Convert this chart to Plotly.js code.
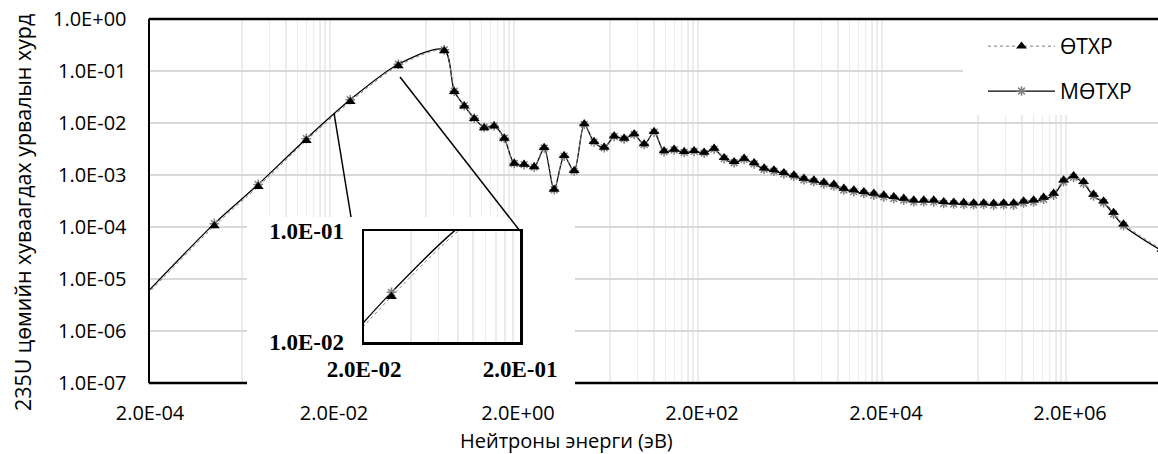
<!DOCTYPE html>
<html><head><meta charset="utf-8">
<script src="https://cdn.plot.ly/plotly-3.0.1.min.js"></script>
<style>html,body{margin:0;padding:0;background:#fff}#chart{width:1158px;height:454px}</style>
</head><body><div id="chart"></div>
<script>
// ---- data ----
const energy = [1e-4, 1e-3, 3e-3, 1e-2, 3e-2, 0.1, 0.316, 0.406, 0.521, 0.669, 0.859, 1.10, 1.42, 1.82, 2.33, 3.00,
  3.85, 4.94, 6.35, 8.15, 10.5, 13.4, 17.3, 22.2, 28.5, 36.6, 47.0, 60.3, 77.5, 99.5, 128, 164,
  211, 271, 348, 447, 574, 737, 946, 1210, 1553, 1995, 2561, 3289, 4223, 5423, 6963, 8941,
  11480, 14740, 18930, 24300, 31200, 40070, 51450, 66060, 84820, 108900, 139900, 179600, 230600, 296100,
  380200, 488100, 626800, 804800, 1033000, 1327000, 1704000, 2188000, 2809000, 3607000, 4632000, 5947000, 7636000, 2e7];
const otxr = [1.6e-6, 1.05e-4, 6.0e-4, 4.6e-3, 2.57e-2, 0.126, 0.245, 0.040, 0.0212, 0.0121, 0.0081, 0.00875, 0.00507, 0.00168, 0.0016, 0.00144,
  0.00335, 5.3e-4, 2.35e-3, 1.21e-3, 9.57e-3, 4.37e-3, 3.41e-3, 5.62e-3, 5.07e-3, 6.15e-3, 3.95e-3, 6.8e-3, 2.9e-3, 3.12e-3, 2.81e-3, 2.94e-3,
  2.73e-3, 3.26e-3, 2.15e-3, 1.8e-3, 2.09e-3, 1.72e-3, 1.36e-3, 1.25e-3, 1.11e-3, 1.0e-3, 8.63e-4, 8.0e-4, 7.23e-4, 6.62e-4, 5.55e-4, 5.15e-4,
  4.78e-4, 4.45e-4, 4.12e-4, 3.83e-4, 3.56e-4, 3.3e-4, 3.3e-4, 3.3e-4, 3.07e-4, 3.0e-4, 2.95e-4, 2.9e-4, 2.9e-4, 2.85e-4,
  2.9e-4, 2.9e-4, 3.16e-4, 3.3e-4, 3.72e-4, 4.45e-4, 8.0e-4, 9.7e-4, 7.43e-4, 4.25e-4, 3.16e-4, 1.91e-4, 1.14e-4, 3.7e-5];
const motxr = [1.75e-6, 1.16e-4, 6.6e-4, 5.0e-3, 2.8e-2, 0.135, 0.255, 0.041, 0.0215, 0.0123, 0.0082, 0.0088, 0.0051, 0.00166, 0.00158, 0.00142,
  0.0033, 5.2e-4, 2.3e-3, 1.19e-3, 9.4e-3, 4.3e-3, 3.35e-3, 5.5e-3, 4.95e-3, 6.0e-3, 3.85e-3, 6.65e-3, 2.82e-3, 3.03e-3, 2.72e-3, 2.84e-3,
  2.63e-3, 3.14e-3, 2.06e-3, 1.72e-3, 2.0e-3, 1.64e-3, 1.29e-3, 1.18e-3, 1.05e-3, 9.4e-4, 8.1e-4, 7.5e-4, 6.75e-4, 6.15e-4, 5.15e-4, 4.78e-4,
  4.42e-4, 4.1e-4, 3.8e-4, 3.53e-4, 3.28e-4, 3.05e-4, 3.05e-4, 3.04e-4, 2.83e-4, 2.77e-4, 2.72e-4, 2.67e-4, 2.72e-4, 2.63e-4,
  2.67e-4, 2.63e-4, 2.9e-4, 3.03e-4, 3.42e-4, 4.1e-4, 7.4e-4, 9.0e-4, 6.9e-4, 3.95e-4, 2.93e-4, 1.77e-4, 1.06e-4, 3.45e-5];
const seriesNames = ["ӨТХР", "МӨТХР"];
const yTickVals = [1, 0.1, 0.01, 1e-3, 1e-4, 1e-5, 1e-6, 1e-7];
const yTickText = ["1.0E+00", "1.0E-01", "1.0E-02", "1.0E-03", "1.0E-04", "1.0E-05", "1.0E-06", "1.0E-07"];
const xTickVals = [2e-4, 2e-2, 2, 200, 2e4, 2e6];
const xTickText = ["2.0E-04", "2.0E-02", "2.0E+00", "2.0E+02", "2.0E+04", "2.0E+06"];
const insetXVals = [0.02, 0.2], insetXText = ["2.0E-02", "2.0E-01"];
const insetYVals = [0.01, 0.1], insetYText = ["1.0E-02", "1.0E-01"];
const xTitle = "Нейтроны энерги (эВ)";
const yTitle = "235U цөмийн хуваагдах урвалын хурд";

// ---- layout helpers ----
const W = 1158, H = 454, L = 150, T = 19, B = 71, PW = W - L, PH = H - T - B;
const px = x => (x - L) / PW, py = y => (H - B - y) / PH;
const minorX = [];
[2e-3, 2e-1, 2e1, 2e3, 2e5].forEach(b => { for (let k = 1; k <= 9; k++) minorX.push(b * k); });
const insetMinor = [];
for (let k = 2; k <= 9; k++) insetMinor.push(0.02 * k);

function series(xa, ya, show) {
  return [
    {x: energy, y: motxr, name: seriesNames[1], type: 'scatter', mode: 'lines+markers', xaxis: xa, yaxis: ya,
     showlegend: show, legendgroup: 'b', legendrank: 2,
     line: {color: '#000', width: 1.3, shape: 'spline', smoothing: 0.8},
     marker: {symbol: 'asterisk', size: 8, color: '#808080', line: {color: '#808080', width: 1.5}}},
    {x: energy, y: otxr, name: seriesNames[0], type: 'scatter', mode: 'lines+markers', xaxis: xa, yaxis: ya,
     showlegend: show, legendgroup: 'a', legendrank: 1,
     line: {color: '#808080', width: 1, dash: 'dot', shape: 'spline', smoothing: 0.8},
     marker: {symbol: 'triangle-up', size: 9.5, color: '#000'}}
  ];
}
const data = [].concat(series('x', 'y', true),
  [{x: [], y: [], type: 'scatter', xaxis: 'x2', yaxis: 'y2', showlegend: false}],
  series('x3', 'y3', false));

const lineShape = (x0, y0, x1, y1, w) => ({type: 'line', xref: 'paper', yref: 'paper', layer: 'above',
  x0: px(x0), y0: py(y0), x1: px(x1), y1: py(y1), line: {color: '#000', width: w}});

const layout = {
  width: W, height: H, margin: {l: L, r: 0, t: T, b: B, pad: 0},
  paper_bgcolor: '#fff', plot_bgcolor: '#fff',
  font: {family: '"Open Sans", sans-serif', size: 20, color: '#000'},
  showlegend: true,
  xaxis: {type: 'log', range: [Math.log10(2e-4), Math.log10(2e-4) + PW / 92], tickvals: xTickVals, ticktext: xTickText,
    showgrid: false, zeroline: false, showline: false, ticks: '', ticklabelstandoff: 16,
    minor: {tickvals: minorX, showgrid: true, gridcolor: '#ececec', gridwidth: 1.5, ticks: ''}},
  yaxis: {type: 'log', range: [-7, 0], tickvals: yTickVals, ticktext: yTickText, showgrid: true, gridcolor: '#d9d9d9',
    gridwidth: 1.5, zeroline: false, showline: true, linecolor: '#000', linewidth: 2.5, ticks: '', ticklabelstandoff: 17},
  xaxis2: {domain: [px(247), px(575)], anchor: 'y2', visible: false, range: [0, 1]},
  yaxis2: {domain: [0, py(217)], anchor: 'x2', visible: false, range: [0, 1]},
  xaxis3: {domain: [px(364), px(520)], anchor: 'y3', type: 'log', range: [Math.log10(0.02), Math.log10(0.2)],
    tickvals: insetXVals, ticktext: insetXText, showline: true, mirror: true, linecolor: '#000', linewidth: 2.5,
    showgrid: false, zeroline: false, ticks: '', ticklabelstandoff: 5,
    tickfont: {family: '"Liberation Serif", serif', size: 23, weight: 'bold'},
    minor: {tickvals: insetMinor, showgrid: true, gridcolor: '#ebebeb', gridwidth: 1.5, ticks: ''}},
  yaxis3: {domain: [py(342), py(231)], anchor: 'x3', type: 'log', range: [-2, -1],
    tickvals: insetYVals, ticktext: insetYText, showline: true, mirror: true, linecolor: '#000', linewidth: 2.5,
    showgrid: false, zeroline: false, ticks: '', ticklabelstandoff: 13,
    tickfont: {family: '"Liberation Serif", serif', size: 23, weight: 'bold'}},
  legend: {x: px(983), xanchor: 'left', y: py(26), yanchor: 'top', bgcolor: 'rgba(255,255,255,0)', borderwidth: 0,
    font: {size: 21}, traceorder: 'grouped', tracegroupgap: 14.6, itemwidth: 67},
  shapes: [
    {type: 'rect', xref: 'paper', yref: 'paper', layer: 'above', x0: px(963), x1: 1, y0: py(115), y1: py(21),
     fillcolor: '#fff', line: {width: 0}},
    lineShape(148.75, 19, 1158, 19, 2.5),
    lineShape(148.75, 383, 247, 383, 2.5),
    lineShape(575, 383, 1158, 383, 2.5),
    lineShape(334, 113, 351, 217, 1.5),
    lineShape(400, 77, 520, 231, 1.5)
  ],
  annotations: [
    {xref: 'paper', yref: 'paper', x: px(566.7), y: py(440.5), text: xTitle, showarrow: false, xanchor: 'center', yanchor: 'middle', font: {size: 20}},
    {xref: 'paper', yref: 'paper', x: px(22), y: py(213), text: yTitle, showarrow: false, textangle: -90, xanchor: 'center', yanchor: 'middle', font: {size: 21.4}}
  ]
};
Plotly.newPlot('chart', data, layout, {staticPlot: true, displayModeBar: false});
</script></body></html>
